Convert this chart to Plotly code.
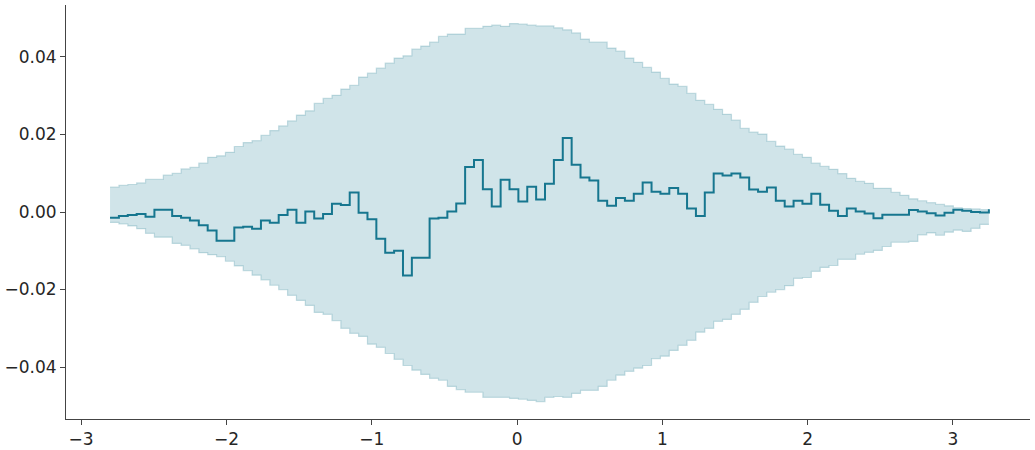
import numpy as np
import plotly.graph_objects as go

# bin grid (99 bins)
bin_edges = np.linspace(-2.801, 3.247, 100)

mean_vals = [
    -0.0015, -0.0010, -0.0008, -0.0005, -0.0012, 0.0006, 0.0006, -0.0010, -0.0015, -0.0022,
    -0.0034, -0.0048, -0.0074, -0.0074, -0.0040, -0.0038, -0.0043, -0.0022, -0.0028, -0.0008,
    0.0006, -0.0028, 0.0001, -0.0017, -0.0005, 0.0021, 0.0018, 0.0050, -0.0002, -0.0019,
    -0.0069, -0.0105, -0.0100, -0.0164, -0.0118, -0.0118, -0.0017, -0.0015, 0.0001, 0.0022,
    0.0116, 0.0134, 0.0059, 0.0014, 0.0083, 0.0059, 0.0027, 0.0065, 0.0032, 0.0073,
    0.0134, 0.0191, 0.0122, 0.0089, 0.0081, 0.0029, 0.0016, 0.0036, 0.0029, 0.0047,
    0.0076, 0.0052, 0.0047, 0.0062, 0.0047, 0.0009, -0.0010, 0.0050, 0.0099, 0.0094,
    0.0099, 0.0089, 0.0058, 0.0052, 0.0063, 0.0029, 0.0014, 0.0029, 0.0021, 0.0047,
    0.0019, 0.0003, -0.0010, 0.0009, 0.0001, -0.0004, -0.0016, -0.0007, -0.0007, -0.0007,
    0.0005, 0.0001, -0.0003, -0.0009, -0.0002, 0.0006, 0.0003, 0.0000, -0.0001,
]
mean_end = 0.0007

upper_vals = [
    0.0064, 0.0069, 0.0071, 0.0075, 0.0084, 0.0084, 0.0095, 0.0100, 0.0111, 0.0115,
    0.0126, 0.0141, 0.0145, 0.0154, 0.0169, 0.0179, 0.0184, 0.0198, 0.0210, 0.0222,
    0.0235, 0.0250, 0.0261, 0.0280, 0.0293, 0.0301, 0.0317, 0.0327, 0.0348, 0.0358,
    0.0371, 0.0384, 0.0397, 0.0403, 0.0420, 0.0428, 0.0438, 0.0453, 0.0459, 0.0459,
    0.0474, 0.0474, 0.0479, 0.0482, 0.0479, 0.0486, 0.0485, 0.0482, 0.0480, 0.0480,
    0.0475, 0.0470, 0.0462, 0.0446, 0.0438, 0.0438, 0.0423, 0.0415, 0.0397, 0.0386,
    0.0373, 0.0361, 0.0345, 0.0330, 0.0324, 0.0306, 0.0288, 0.0278, 0.0265, 0.0252,
    0.0237, 0.0216, 0.0206, 0.0201, 0.0182, 0.0170, 0.0162, 0.0149, 0.0141, 0.0126,
    0.0118, 0.0110, 0.0099, 0.0087, 0.0079, 0.0074, 0.0061, 0.0061, 0.0051, 0.0043,
    0.0034, 0.0029, 0.0024, 0.0020, 0.0016, 0.0011, 0.0009, 0.0008, 0.0006,
]

lower_vals = [
    -0.0027, -0.0031, -0.0036, -0.0043, -0.0055, -0.0065, -0.0065, -0.0081, -0.0086, -0.0095,
    -0.0105, -0.0110, -0.0115, -0.0127, -0.0139, -0.0151, -0.0163, -0.0175, -0.0189, -0.0200,
    -0.0215, -0.0228, -0.0241, -0.0259, -0.0264, -0.0280, -0.0300, -0.0313, -0.0321, -0.0341,
    -0.0349, -0.0365, -0.0380, -0.0396, -0.0408, -0.0419, -0.0429, -0.0434, -0.0450, -0.0458,
    -0.0465, -0.0465, -0.0478, -0.0478, -0.0478, -0.0481, -0.0483, -0.0486, -0.0489, -0.0478,
    -0.0476, -0.0478, -0.0468, -0.0460, -0.0460, -0.0450, -0.0434, -0.0421, -0.0411, -0.0403,
    -0.0396, -0.0378, -0.0372, -0.0357, -0.0344, -0.0331, -0.0310, -0.0300, -0.0282, -0.0277,
    -0.0264, -0.0251, -0.0233, -0.0218, -0.0207, -0.0200, -0.0190, -0.0171, -0.0169, -0.0153,
    -0.0143, -0.0138, -0.0122, -0.0122, -0.0109, -0.0104, -0.0099, -0.0089, -0.0078, -0.0078,
    -0.0076, -0.0059, -0.0054, -0.0060, -0.0052, -0.0047, -0.0050, -0.0042, -0.0032,
]

x_ticks = [-3, -2, -1, 0, 1, 2, 3]
y_ticks = [-0.04, -0.02, 0.0, 0.02, 0.04]

LINE = "rgb(22,118,143)"
FILL = "rgba(22,118,143,0.2)"
EDGE = "rgba(22,118,143,0.22)"

xs = list(bin_edges)
fig = go.Figure()
fig.add_trace(go.Scatter(
    x=xs, y=lower_vals + [lower_vals[-1]], mode="lines", line_shape="hv",
    line=dict(color=EDGE, width=1.2), showlegend=False, hoverinfo="skip"))
fig.add_trace(go.Scatter(
    x=xs, y=upper_vals + [upper_vals[-1]], mode="lines", line_shape="hv",
    line=dict(color=EDGE, width=1.2), fill="tonexty", fillcolor=FILL,
    showlegend=False, hoverinfo="skip"))
fig.add_trace(go.Scatter(
    x=xs, y=mean_vals + [mean_end], mode="lines", line_shape="hv",
    line=dict(color=LINE, width=2), showlegend=False))

axis_common = dict(
    showgrid=False, zeroline=False, showline=True, linecolor="#444", linewidth=1,
    ticks="outside", ticklen=5, tickwidth=1, tickcolor="#444", automargin=False,
    tickfont=dict(family="DejaVu Sans", size=17, color="#262626"),
)
fig.update_xaxes(range=[-3.104, 3.53], tickvals=x_ticks,
                 ticktext=[("−" + str(-t)) if t < 0 else str(t) for t in x_ticks], **axis_common)
fig.update_yaxes(range=[-0.0534, 0.0534], tickvals=y_ticks, tickformat=".2f", **axis_common)
fig.update_layout(
    width=1035, height=450,
    margin=dict(l=66, r=5, t=5, b=31),
    paper_bgcolor="white", plot_bgcolor="white",
)
fig.write_html("out.html", config={"displayModeBar": False},
               post_script="document.body.style.margin='0';document.body.style.padding='0';")
